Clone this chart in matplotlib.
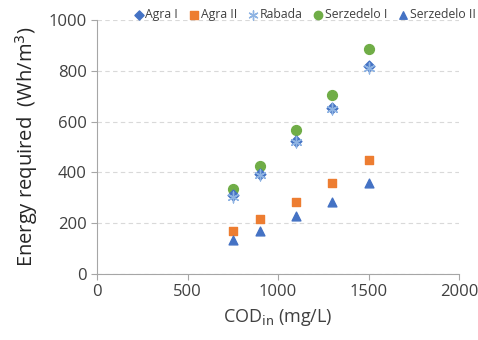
import matplotlib
matplotlib.use("Agg")
import matplotlib.pyplot as plt

plt.rcParams['font.family'] = ['Open Sans', 'DejaVu Sans']

cod = [750, 900, 1100, 1300, 1500]
agra1 = [310, 395, 522, 655, 820]
agra2 = [170, 215, 285, 360, 450]
rabada = [305, 390, 518, 648, 810]
serz1 = [333, 425, 565, 705, 885]
serz2 = [135, 170, 228, 285, 358]

fig = plt.figure(figsize=(4.78, 3.40), dpi=100)
ax = fig.add_axes([97/478, 1-274/340, (459-97)/478, (274-20)/340])

ax.scatter(cod, agra1, marker='D', s=30, color='#4472C4', label='Agra I', zorder=3)
ax.scatter(cod, agra2, marker='s', s=40, color='#ED7D31', label='Agra II', zorder=3)
ax.scatter(cod, rabada, marker=(6, 2, 0), s=60, color='#8FB4E3', linewidths=1.0, label='Rabada', zorder=3)
ax.scatter(cod, serz1, marker='o', s=50, color='#70AD47', label='Serzedelo I', zorder=2)
ax.scatter(cod, serz2, marker='^', s=40, color='#4472C4', label='Serzedelo II', zorder=3)

ax.set_xlim(0, 2000)
ax.set_ylim(0, 1000)
ax.set_xticks([0, 500, 1000, 1500, 2000])
ax.set_yticks([0, 200, 400, 600, 800, 1000])
ax.grid(axis='y', color='#D9D9D9', linestyle=(0, (4, 3)), linewidth=0.8)
ax.set_axisbelow(True)
for s in ['top', 'right']:
    ax.spines[s].set_visible(False)
for s in ['left', 'bottom']:
    ax.spines[s].set_color('#A6A6A6')
ax.tick_params(colors='#A6A6A6', labelcolor='#404040', labelsize=12, length=4)

ax.set_xlabel('COD$_{\\mathrm{in}}$ (mg/L)', fontsize=13, color='#404040', labelpad=5)
ax.set_ylabel('Energy required  (Wh/m$^3$)', fontsize=14.5, color='#262626', labelpad=6)

leg = ax.legend(loc='lower right', bbox_to_anchor=(1.06, 0.975), ncol=5, frameon=False,
                fontsize=8.8, handletextpad=0.05, columnspacing=0.8, handlelength=1.0,
                markerscale=0.85, borderaxespad=0)
for t in leg.get_texts():
    t.set_color('#404040')

fig.savefig('out.png', dpi=100)
